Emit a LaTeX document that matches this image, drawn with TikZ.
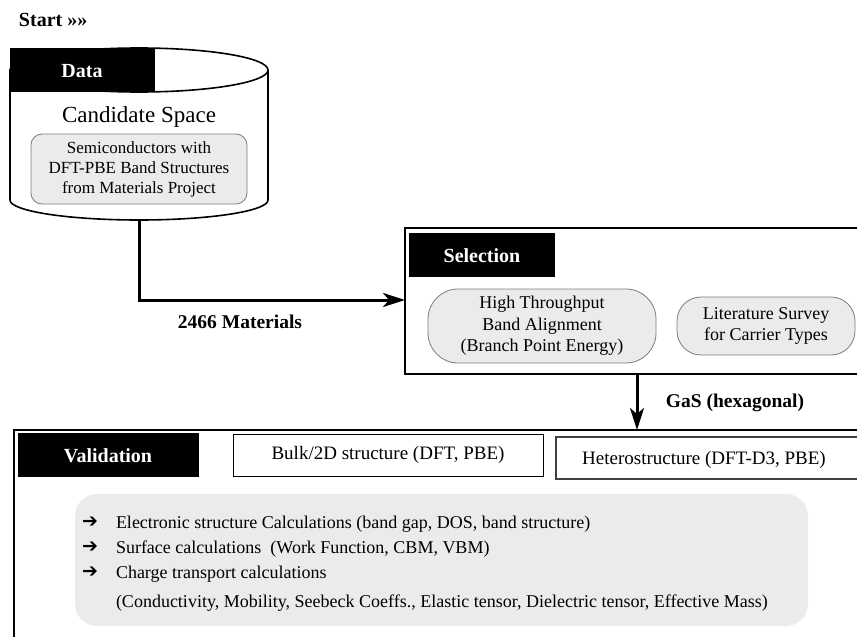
\documentclass[tikz,border=0pt]{standalone}
\usepackage{fontspec}
\setmainfont{Liberation Serif}
\newfontfamily\symfont{DejaVu Sans}
\usetikzlibrary{arrows.meta}
\definecolor{boxgray}{RGB}{235,235,235}
\definecolor{edgegray}{RGB}{125,125,125}

\begin{document}
\begin{tikzpicture}[x=1pt,y=-1pt,
  every node/.style={inner sep=0pt, outer sep=0pt},
  hdrbox/.style={fill=black},
  hdr/.style={font=\fontsize{20}{24}\selectfont\bfseries, text=white, anchor=base},
  flowlbl/.style={font=\fontsize{19.5}{23}\selectfont\bfseries, anchor=base},
  softbox/.style={draw=edgegray, fill=boxgray, line width=0.8pt, align=center,
                  font=\fontsize{18}{21.5}\selectfont},
  frame/.style={line width=2pt},
  cyl/.style={line width=1.6pt, fill=white},
  flow/.style={line width=3pt, -{Stealth[length=22pt,width=14pt,inset=6pt]}},
  plainbox/.style={draw, line width=1pt, font=\fontsize{19}{23}\selectfont},
  bulletarrow/.style={font=\symfont\fontsize{19}{22}\selectfont},
  itemtext/.style={font=\fontsize{18}{21}\selectfont, anchor=base west}]

\useasboundingbox (0,0) rectangle (857,637);

% ---------- start marker ----------
\node[font=\fontsize{20}{24}\selectfont\bfseries, anchor=base west] (start) at (19,27) {Start »»};

% ---------- Data: candidate space cylinder ----------
\draw[cyl] (10,70) -- (10,200) arc[start angle=180, end angle=360, x radius=129pt, y radius=20pt] -- (268,70);
\draw[cyl] (139,70) ellipse[x radius=129pt, y radius=22pt];
\fill[hdrbox] (10,48) rectangle (155,92);
\node[hdr] (data) at (82,77) {Data};
\node[font=\fontsize{23}{27}\selectfont, anchor=base] (cand) at (139,122) {Candidate Space};
\node[softbox, rounded corners=11pt, minimum width=216pt, minimum height=70pt,
      font=\fontsize{17}{20}\selectfont] (semi) at (139,169)
      {Semiconductors with\\DFT-PBE Band Structures\\from Materials Project};
\coordinate (cylbot) at (139,220);

% ---------- Selection ----------
\draw[frame] (857,228) -- (405,228) -- (405,374) -- (857,374);
\fill[hdrbox] (409,233) rectangle (555,277);
\node[hdr] (sel) at (482,262) {Selection};
\node[softbox, rounded corners=30pt, minimum width=228pt, minimum height=74pt] (hta) at (542,326)
      {High Throughput\\Band Alignment\\(Branch Point Energy)};
\node[softbox, rounded corners=24pt, minimum width=178pt, minimum height=58pt] (lit) at (766,326)
      {Literature Survey\\for Carrier Types};
\coordinate (selin) at (405,300);
\coordinate (selout) at (637,374);

% ---------- Validation ----------
\draw[frame] (857,430) -- (14,430) -- (14,637);
\fill[hdrbox] (18,433) rectangle (199,477);
\node[hdr] (val) at (108,462) {Validation};
\node[plainbox, minimum width=310pt, minimum height=42pt] (bulk) at (388,455) {Bulk/2D structure (DFT, PBE)};
\draw[line width=1.2pt, draw=black!75] (857,437) -- (556,437) -- (556,479) -- (857,479);
\node[font=\fontsize{19}{23}\selectfont, anchor=base] (hetero) at (704,464) {Heterostructure (DFT-D3, PBE)};
\coordinate (valin) at (637,430);

\fill[boxgray, rounded corners=22pt] (75,494) rectangle (808,626);
\node[bulletarrow] (b1) at (90,522) {➔};
\node[bulletarrow] (b2) at (90,547) {➔};
\node[bulletarrow] (b3) at (90,572) {➔};
\node[itemtext] (t1) at (116,528) {Electronic structure Calculations (band gap, DOS, band structure)};
\node[itemtext] (t2) at (116,553) {Surface calculations\ \ (Work Function, CBM, VBM)};
\node[itemtext] (t3) at (116,578) {Charge transport calculations};
\node[itemtext] (t4) at (116,607) {(Conductivity, Mobility, Seebeck Coeffs., Elastic tensor, Dielectric tensor, Effective Mass)};

% ---------- flow connectors ----------
\draw[flow] (cylbot) |- (selin);
\node[flowlbl] (n2466) at (240,328) {2466 Materials};
\draw[flow] (selout) -- (valin);
\node[flowlbl] (gas) at (735,407) {GaS (hexagonal)};

\end{tikzpicture}
\end{document}
